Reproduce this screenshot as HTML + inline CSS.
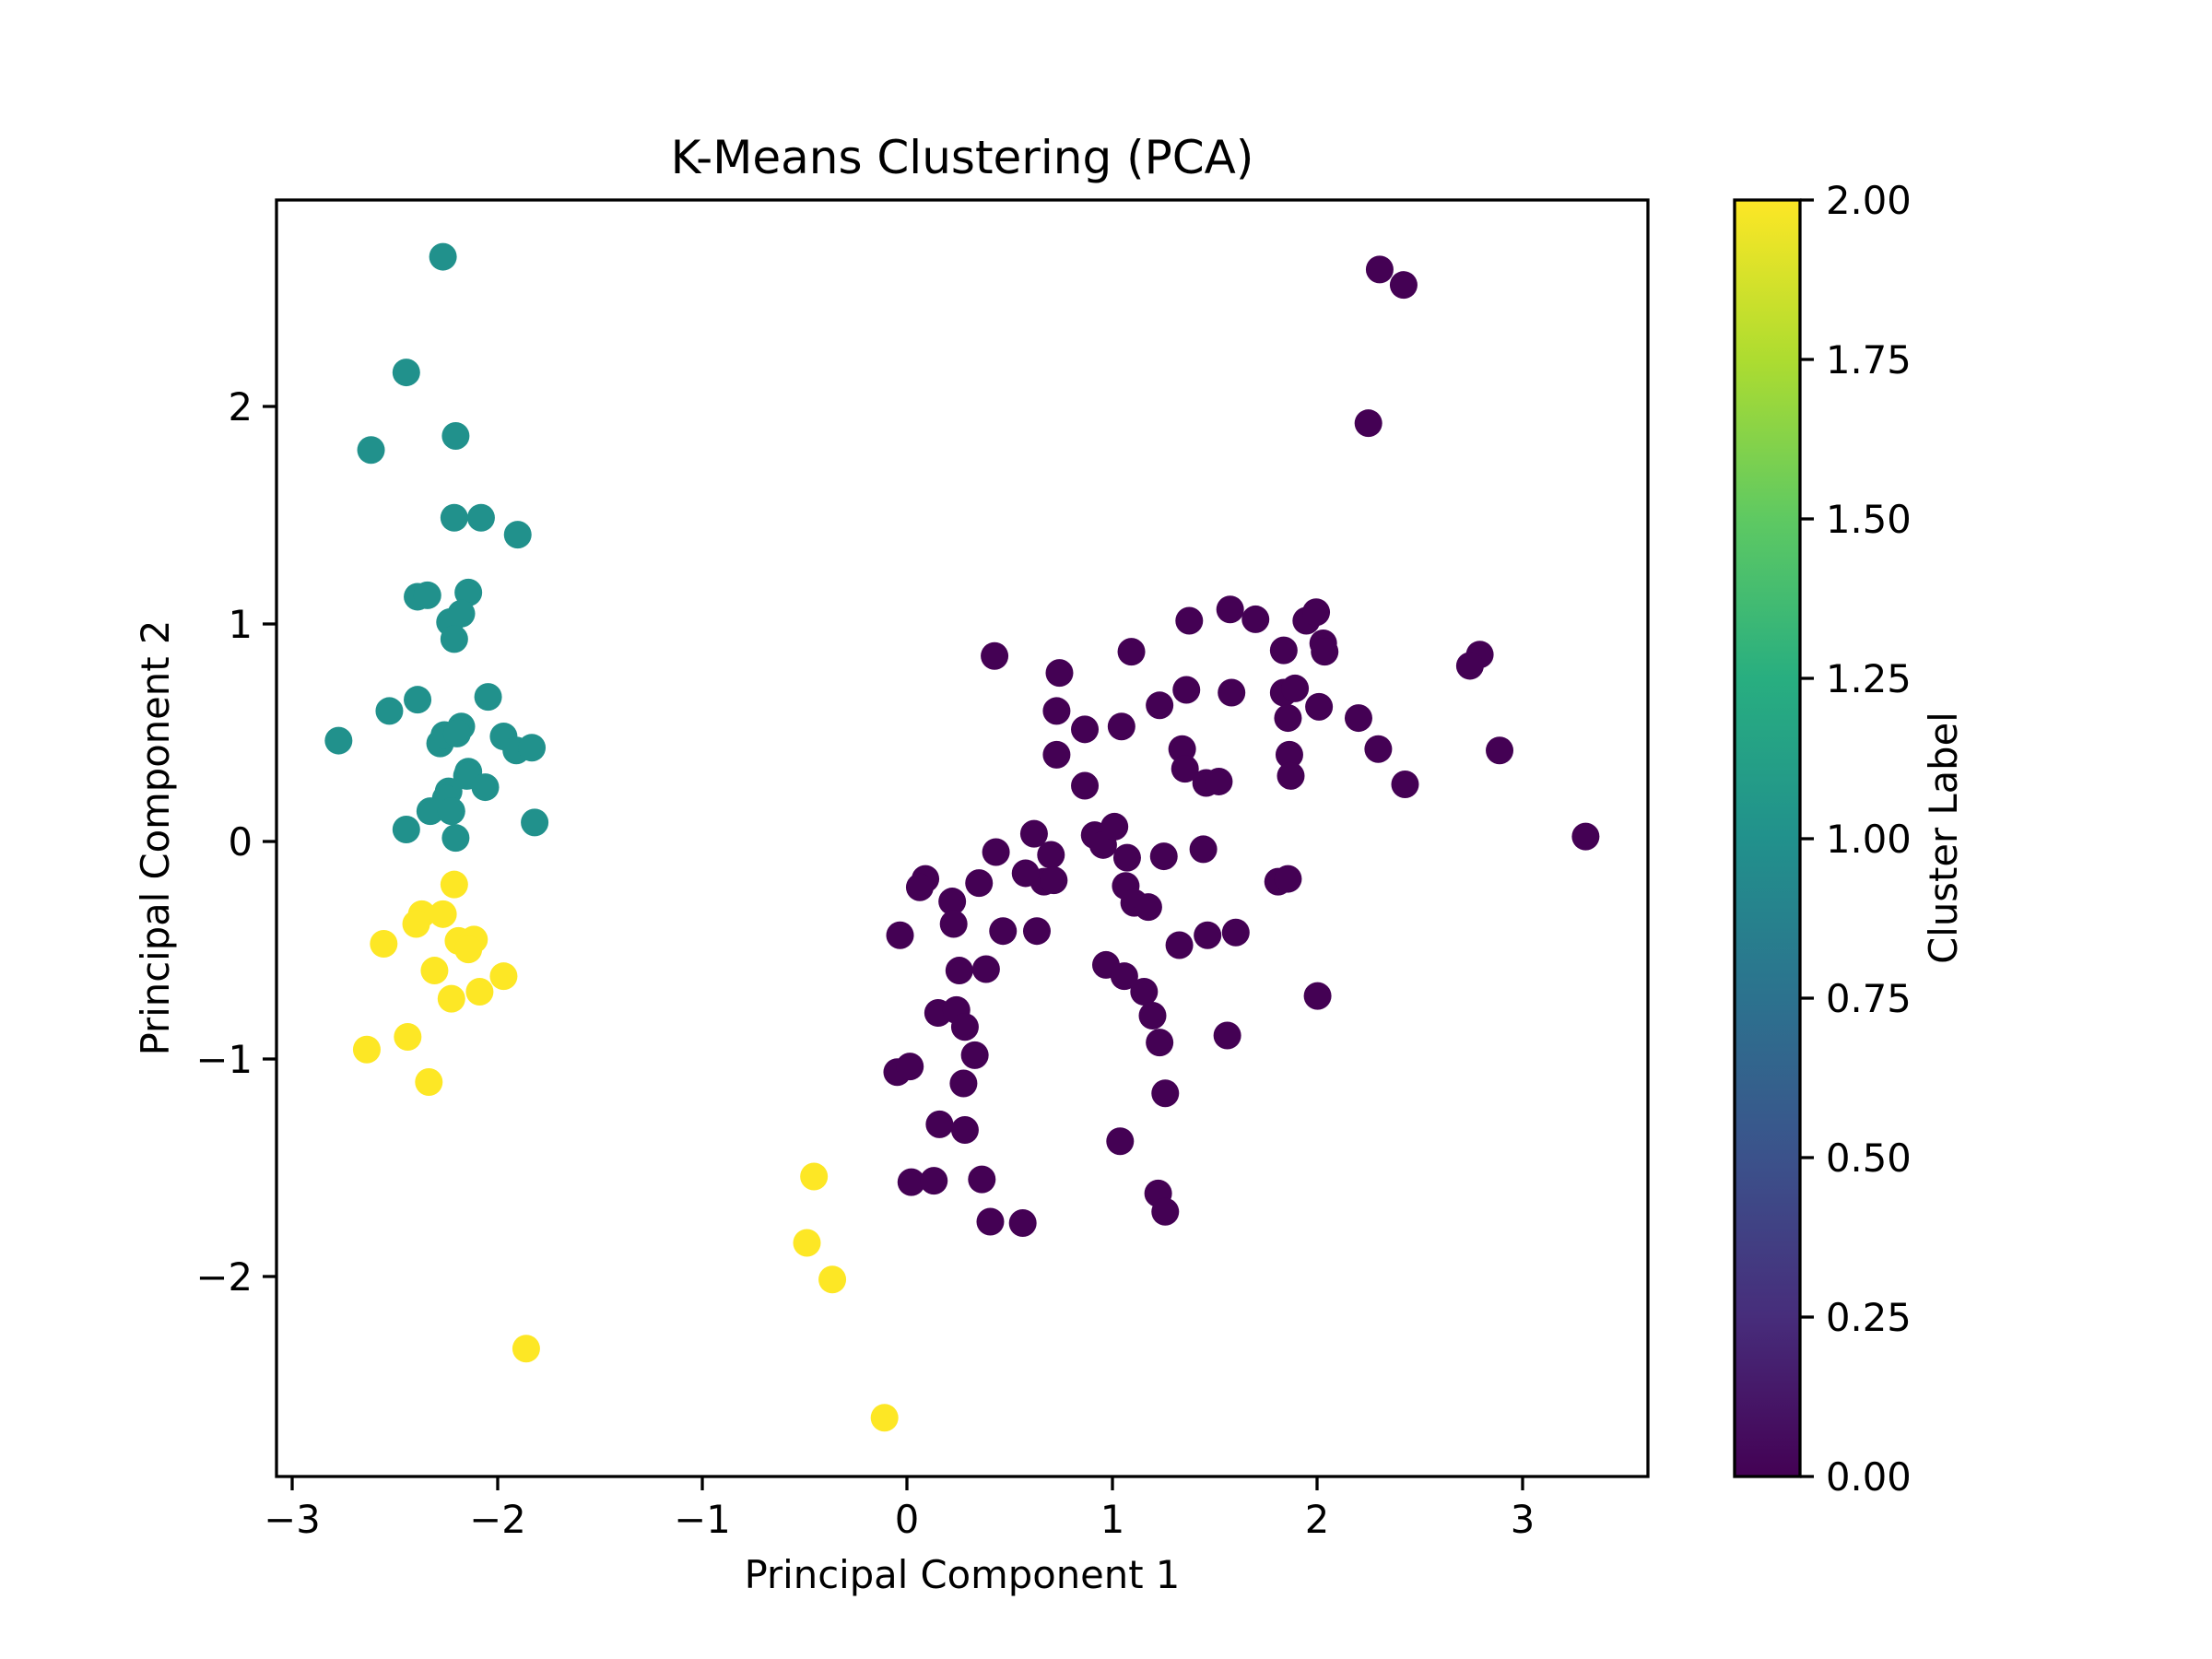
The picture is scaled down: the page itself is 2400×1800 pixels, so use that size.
<!DOCTYPE html>
<html><head><meta charset="utf-8"><style>
html,body{margin:0;padding:0;background:#fff;}
svg{display:block;}
text{font-family:"DejaVu Sans","Liberation Sans",sans-serif;fill:#000;}
</style></head><body>
<svg width="2400" height="1800" viewBox="0 0 2400 1800" xmlns="http://www.w3.org/2000/svg">
<defs>
<linearGradient id="vir" x1="0" y1="1" x2="0" y2="0">
<stop offset="0" stop-color="#440154"/>
<stop offset="0.125" stop-color="#472d7b"/>
<stop offset="0.25" stop-color="#3b528b"/>
<stop offset="0.375" stop-color="#2c728e"/>
<stop offset="0.5" stop-color="#21918c"/>
<stop offset="0.625" stop-color="#28ae80"/>
<stop offset="0.75" stop-color="#5ec962"/>
<stop offset="0.875" stop-color="#addc30"/>
<stop offset="1" stop-color="#fde725"/>
</linearGradient>
</defs>
<rect width="2400" height="1800" fill="#fff"/>
<g transform="scale(1.5306)">
<g fill="#21918c">
<circle cx="314" cy="182" r="9.8"/><circle cx="288" cy="264" r="9.8"/><circle cx="263" cy="319" r="9.8"/><circle cx="323" cy="309" r="9.8"/><circle cx="322" cy="367" r="9.8"/><circle cx="341" cy="367" r="9.8"/><circle cx="367" cy="379" r="9.8"/><circle cx="296" cy="423" r="9.8"/><circle cx="303" cy="422" r="9.8"/><circle cx="332" cy="420" r="9.8"/><circle cx="327" cy="435" r="9.8"/><circle cx="319" cy="441" r="9.8"/><circle cx="322" cy="453" r="9.8"/><circle cx="276" cy="504" r="9.8"/><circle cx="296" cy="496" r="9.8"/><circle cx="240" cy="525" r="9.8"/><circle cx="346" cy="494" r="9.8"/><circle cx="312" cy="527" r="9.8"/><circle cx="315" cy="521" r="9.8"/><circle cx="327" cy="515" r="9.8"/><circle cx="324" cy="520" r="9.8"/><circle cx="357" cy="522" r="9.8"/><circle cx="366" cy="532" r="9.8"/><circle cx="377" cy="530" r="9.8"/><circle cx="332" cy="547" r="9.8"/><circle cx="331" cy="550" r="9.8"/><circle cx="344" cy="558" r="9.8"/><circle cx="318" cy="561" r="9.8"/><circle cx="316" cy="566" r="9.8"/><circle cx="305" cy="575" r="9.8"/><circle cx="320" cy="575" r="9.8"/><circle cx="288" cy="588" r="9.8"/><circle cx="323" cy="594" r="9.8"/><circle cx="379" cy="583" r="9.8"/>
</g>
<g fill="#fde725">
<circle cx="322" cy="627" r="9.8"/><circle cx="299" cy="648" r="9.8"/><circle cx="295" cy="655" r="9.8"/><circle cx="314" cy="648" r="9.8"/><circle cx="272" cy="669" r="9.8"/><circle cx="325" cy="667" r="9.8"/><circle cx="336" cy="666" r="9.8"/><circle cx="332" cy="673" r="9.8"/><circle cx="308" cy="688" r="9.8"/><circle cx="357" cy="692" r="9.8"/><circle cx="340" cy="703" r="9.8"/><circle cx="320" cy="708" r="9.8"/><circle cx="260" cy="744" r="9.8"/><circle cx="289" cy="735" r="9.8"/><circle cx="304" cy="767" r="9.8"/><circle cx="577" cy="834" r="9.8"/><circle cx="572" cy="881" r="9.8"/><circle cx="590" cy="907" r="9.8"/><circle cx="373" cy="956" r="9.8"/><circle cx="627" cy="1005" r="9.8"/>
</g>
<g fill="#440154">
<circle cx="978" cy="191" r="9.8"/><circle cx="995" cy="202" r="9.8"/><circle cx="970" cy="300" r="9.8"/><circle cx="843" cy="440" r="9.8"/><circle cx="872" cy="432" r="9.8"/><circle cx="890" cy="439" r="9.8"/><circle cx="926" cy="440" r="9.8"/><circle cx="933" cy="434" r="9.8"/><circle cx="938" cy="456" r="9.8"/><circle cx="939" cy="462" r="9.8"/><circle cx="910" cy="461" r="9.8"/><circle cx="705" cy="465" r="9.8"/><circle cx="751" cy="477" r="9.8"/><circle cx="802" cy="462" r="9.8"/><circle cx="749" cy="504" r="9.8"/><circle cx="769" cy="517" r="9.8"/><circle cx="795" cy="515" r="9.8"/><circle cx="822" cy="500" r="9.8"/><circle cx="841" cy="489" r="9.8"/><circle cx="873" cy="491" r="9.8"/><circle cx="910" cy="491" r="9.8"/><circle cx="918" cy="488" r="9.8"/><circle cx="913" cy="509" r="9.8"/><circle cx="935" cy="501" r="9.8"/><circle cx="963" cy="509" r="9.8"/><circle cx="1049" cy="464" r="9.8"/><circle cx="1042" cy="472" r="9.8"/><circle cx="1063" cy="532" r="9.8"/><circle cx="749" cy="535" r="9.8"/><circle cx="838" cy="531" r="9.8"/><circle cx="840" cy="545" r="9.8"/><circle cx="855" cy="555" r="9.8"/><circle cx="864" cy="554" r="9.8"/><circle cx="914" cy="535" r="9.8"/><circle cx="915" cy="550" r="9.8"/><circle cx="977" cy="531" r="9.8"/><circle cx="996" cy="556" r="9.8"/><circle cx="1124" cy="593" r="9.8"/><circle cx="769" cy="557" r="9.8"/><circle cx="776" cy="592" r="9.8"/><circle cx="782" cy="599" r="9.8"/><circle cx="790" cy="586" r="9.8"/><circle cx="706" cy="604" r="9.8"/><circle cx="733" cy="591" r="9.8"/><circle cx="745" cy="606" r="9.8"/><circle cx="740" cy="625" r="9.8"/><circle cx="727" cy="619" r="9.8"/><circle cx="747" cy="624" r="9.8"/><circle cx="853" cy="602" r="9.8"/><circle cx="799" cy="608" r="9.8"/><circle cx="906" cy="625" r="9.8"/><circle cx="913" cy="623" r="9.8"/><circle cx="638" cy="663" r="9.8"/><circle cx="656" cy="623" r="9.8"/><circle cx="652" cy="629" r="9.8"/><circle cx="675" cy="639" r="9.8"/><circle cx="676" cy="655" r="9.8"/><circle cx="694" cy="626" r="9.8"/><circle cx="711" cy="660" r="9.8"/><circle cx="735" cy="660" r="9.8"/><circle cx="798" cy="628" r="9.8"/><circle cx="804" cy="640" r="9.8"/><circle cx="814" cy="643" r="9.8"/><circle cx="825" cy="607" r="9.8"/><circle cx="836" cy="670" r="9.8"/><circle cx="856" cy="663" r="9.8"/><circle cx="876" cy="661" r="9.8"/><circle cx="680" cy="688" r="9.8"/><circle cx="699" cy="687" r="9.8"/><circle cx="665" cy="718" r="9.8"/><circle cx="678" cy="716" r="9.8"/><circle cx="684" cy="728" r="9.8"/><circle cx="691" cy="748" r="9.8"/><circle cx="636" cy="760" r="9.8"/><circle cx="645" cy="756" r="9.8"/><circle cx="683" cy="768" r="9.8"/><circle cx="666" cy="797" r="9.8"/><circle cx="684" cy="801" r="9.8"/><circle cx="784" cy="684" r="9.8"/><circle cx="797" cy="692" r="9.8"/><circle cx="811" cy="703" r="9.8"/><circle cx="817" cy="720" r="9.8"/><circle cx="822" cy="739" r="9.8"/><circle cx="826" cy="775" r="9.8"/><circle cx="870" cy="734" r="9.8"/><circle cx="934" cy="706" r="9.8"/><circle cx="646" cy="838" r="9.8"/><circle cx="662" cy="837" r="9.8"/><circle cx="696" cy="836" r="9.8"/><circle cx="702" cy="866" r="9.8"/><circle cx="725" cy="867" r="9.8"/><circle cx="794" cy="809" r="9.8"/><circle cx="821" cy="846" r="9.8"/><circle cx="826" cy="859" r="9.8"/>
</g>
</g>
<!-- axes frame -->
<rect x="300" y="217" width="1488" height="1385" fill="none" stroke="#000" stroke-width="3.3"/>
<g stroke="#000" stroke-width="3.3">
<line x1="317" y1="1602" x2="317" y2="1617"/><line x1="540" y1="1602" x2="540" y2="1617"/><line x1="762" y1="1602" x2="762" y2="1617"/><line x1="984" y1="1602" x2="984" y2="1617"/><line x1="1207" y1="1602" x2="1207" y2="1617"/><line x1="1429" y1="1602" x2="1429" y2="1617"/><line x1="1652" y1="1602" x2="1652" y2="1617"/>
<line x1="285" y1="441" x2="300" y2="441"/><line x1="285" y1="677" x2="300" y2="677"/><line x1="285" y1="913" x2="300" y2="913"/><line x1="285" y1="1149" x2="300" y2="1149"/><line x1="285" y1="1385" x2="300" y2="1385"/>
</g>
<g font-size="41.7" text-anchor="middle">
<text x="317" y="1663">−3</text><text x="540" y="1663">−2</text><text x="762" y="1663">−1</text><text x="984" y="1663">0</text><text x="1207" y="1663">1</text><text x="1429" y="1663">2</text><text x="1652" y="1663">3</text>
</g>
<g font-size="41.7" text-anchor="end">
<text x="274" y="456">2</text><text x="274" y="692">1</text><text x="274" y="928">0</text><text x="274" y="1164">−1</text><text x="274" y="1400">−2</text>
</g>
<text x="1044" y="1723" font-size="41.7" text-anchor="middle">Principal Component 1</text>
<text transform="translate(183,909) rotate(-90)" font-size="41.7" text-anchor="middle">Principal Component 2</text>
<text x="1044" y="188" font-size="50" text-anchor="middle">K-Means Clustering (PCA)</text>
<!-- colorbar -->
<rect x="1882" y="217" width="71" height="1385" fill="url(#vir)" stroke="#000" stroke-width="3.3"/>
<g stroke="#000" stroke-width="3.3">
<line x1="1953" y1="217" x2="1968" y2="217"/><line x1="1953" y1="390" x2="1968" y2="390"/><line x1="1953" y1="563" x2="1968" y2="563"/><line x1="1953" y1="736" x2="1968" y2="736"/><line x1="1953" y1="910" x2="1968" y2="910"/><line x1="1953" y1="1083" x2="1968" y2="1083"/><line x1="1953" y1="1256" x2="1968" y2="1256"/><line x1="1953" y1="1429" x2="1968" y2="1429"/><line x1="1953" y1="1602" x2="1968" y2="1602"/>
</g>
<g font-size="41.7">
<text x="1981" y="232">2.00</text><text x="1981" y="405">1.75</text><text x="1981" y="578">1.50</text><text x="1981" y="751">1.25</text><text x="1981" y="925">1.00</text><text x="1981" y="1098">0.75</text><text x="1981" y="1271">0.50</text><text x="1981" y="1444">0.25</text><text x="1981" y="1617">0.00</text>
</g>
<text transform="translate(2123,909) rotate(-90)" font-size="41.7" text-anchor="middle">Cluster Label</text>
</svg>
</body></html>
